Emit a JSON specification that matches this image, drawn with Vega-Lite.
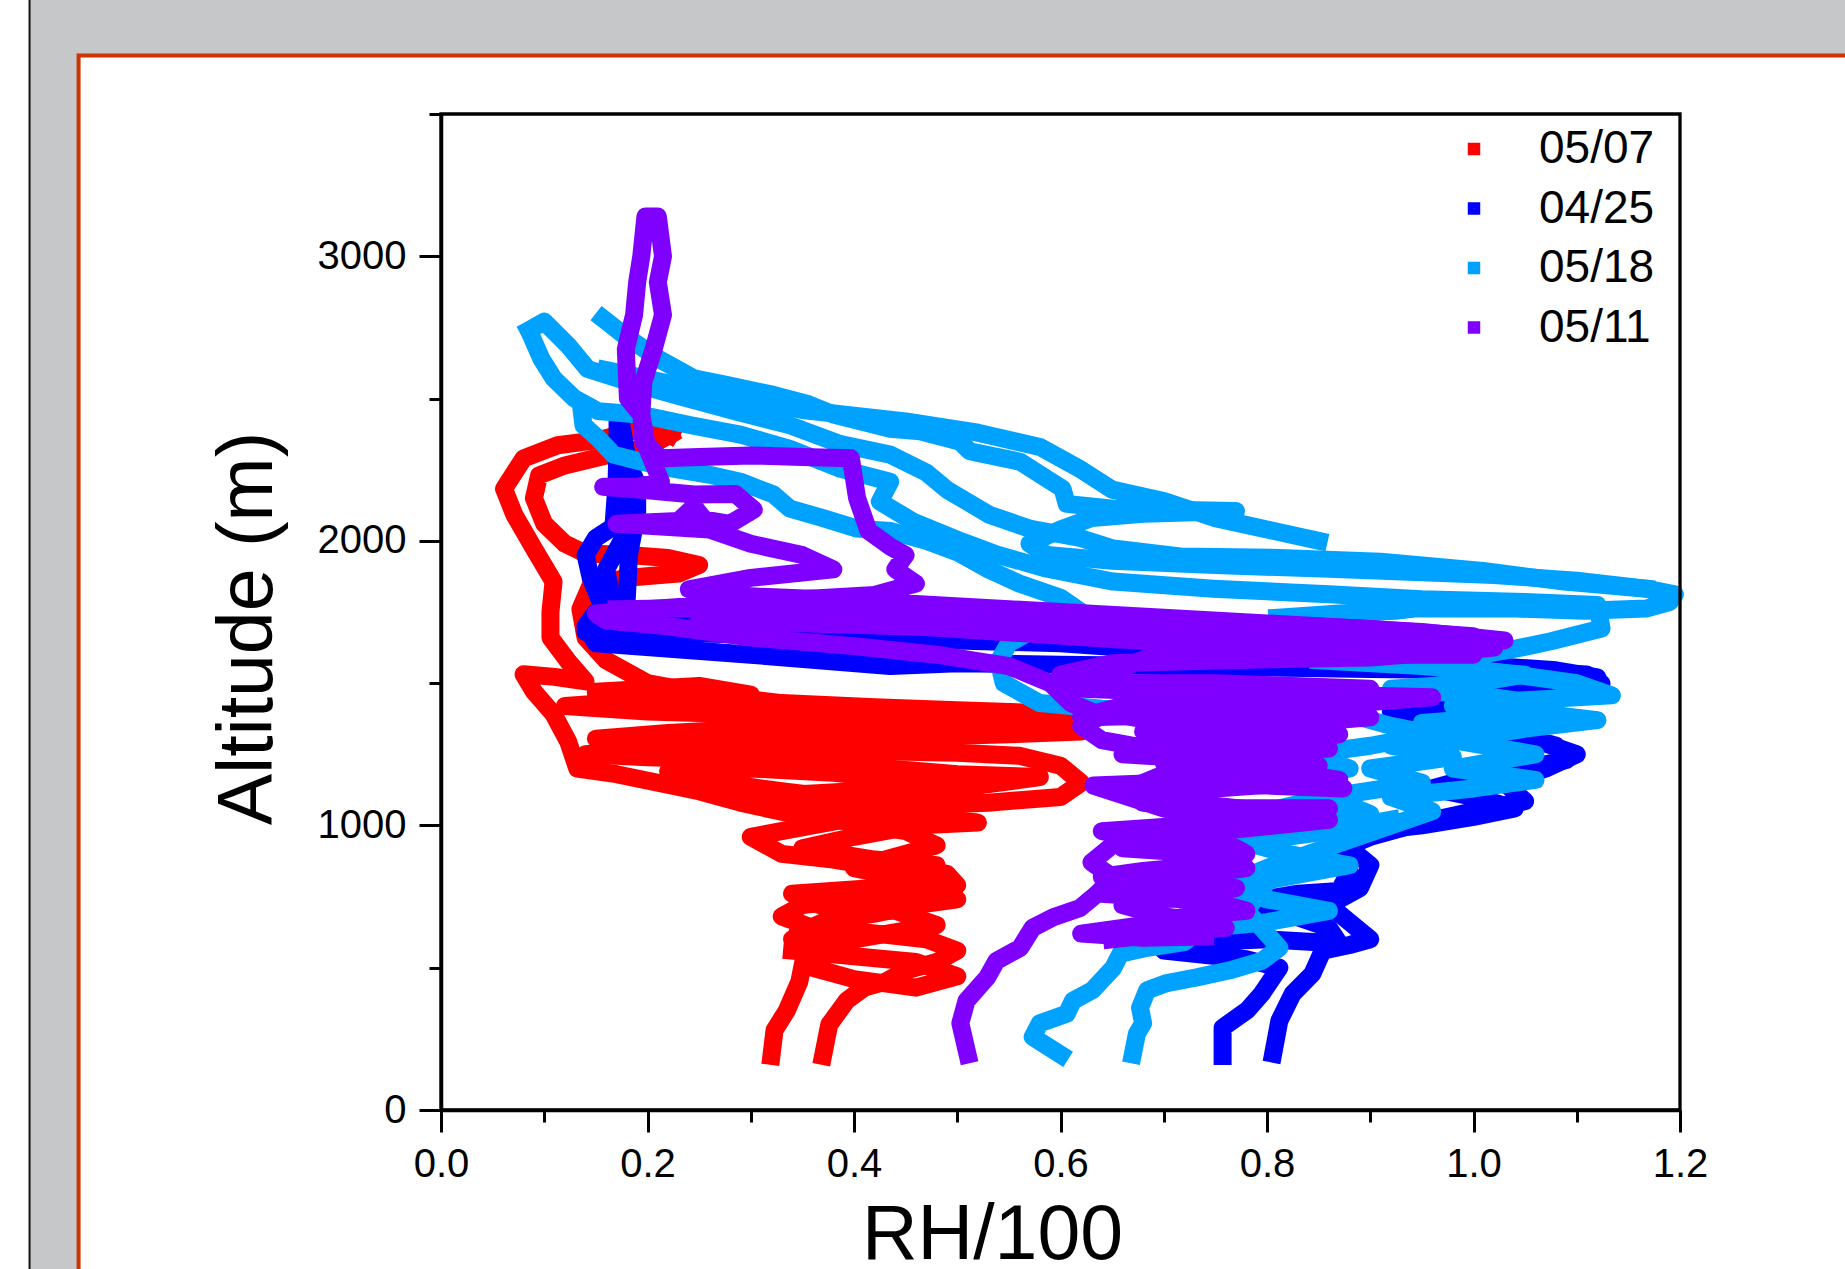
{
"$schema":"https://vega.github.io/schema/vega-lite/v6.json",
"width":1239,"height":996,
"autosize":{"type":"none"},
"padding":{"left":441,"top":114,"right":165,"bottom":159},
"background":"#ffffff",
"config":{"view":{"stroke":null},"font":"Liberation Sans"},
"datasets":{"profiles":[
{"date":"05/07","f":1,"i":1,"rh":0.32,"alt":190},{"date":"05/07","f":1,"i":2,"rh":0.323,"alt":280},{"date":"05/07","f":1,"i":3,"rh":0.335,"alt":350},{"date":"05/07","f":1,"i":4,"rh":0.347,"alt":450},{"date":"05/07","f":1,"i":5,"rh":0.352,"alt":540},{"date":"05/07","f":1,"i":6,"rh":0.345,"alt":620},{"date":"05/07","f":1,"i":7,"rh":0.37,"alt":660},{"date":"05/07","f":1,"i":8,"rh":0.42,"alt":690},{"date":"05/07","f":1,"i":9,"rh":0.46,"alt":720},{"date":"05/07","f":1,"i":10,"rh":0.5,"alt":740},{"date":"05/07","f":1,"i":11,"rh":0.48,"alt":790},{"date":"05/07","f":1,"i":12,"rh":0.44,"alt":820},{"date":"05/07","f":1,"i":13,"rh":0.4,"alt":850},{"date":"05/07","f":1,"i":14,"rh":0.44,"alt":890},{"date":"05/07","f":1,"i":15,"rh":0.48,"alt":930},{"date":"05/07","f":1,"i":16,"rh":0.45,"alt":980},{"date":"05/07","f":1,"i":17,"rh":0.4,"alt":1010},{"date":"05/07","f":1,"i":18,"rh":0.34,"alt":1040},{"date":"05/07","f":1,"i":19,"rh":0.29,"alt":1080},{"date":"05/07","f":1,"i":20,"rh":0.25,"alt":1120},{"date":"05/07","f":1,"i":21,"rh":0.21,"alt":1150},{"date":"05/07","f":1,"i":22,"rh":0.17,"alt":1180},{"date":"05/07","f":1,"i":23,"rh":0.132,"alt":1200},{"date":"05/07","f":1,"i":24,"rh":0.123,"alt":1296},{"date":"05/07","f":1,"i":25,"rh":0.109,"alt":1391},{"date":"05/07","f":1,"i":26,"rh":0.09,"alt":1470},{"date":"05/07","f":1,"i":27,"rh":0.08,"alt":1531},{"date":"05/07","f":1,"i":28,"rh":0.11,"alt":1522},{"date":"05/07","f":1,"i":29,"rh":0.14,"alt":1506},{"date":"05/07","f":1,"i":30,"rh":0.123,"alt":1577},{"date":"05/07","f":1,"i":31,"rh":0.106,"alt":1660},{"date":"05/07","f":1,"i":32,"rh":0.106,"alt":1750},{"date":"05/07","f":1,"i":33,"rh":0.109,"alt":1857},{"date":"05/07","f":1,"i":34,"rh":0.09,"alt":1973},{"date":"05/07","f":1,"i":35,"rh":0.071,"alt":2092},{"date":"05/07","f":1,"i":36,"rh":0.061,"alt":2183},{"date":"05/07","f":1,"i":37,"rh":0.08,"alt":2290},{"date":"05/07","f":1,"i":38,"rh":0.113,"alt":2336},{"date":"05/07","f":1,"i":39,"rh":0.155,"alt":2356},{"date":"05/07","f":1,"i":40,"rh":0.19,"alt":2390},{"date":"05/07","f":1,"i":41,"rh":0.21,"alt":2400},{"date":"05/07","f":1,"i":42,"rh":0.222,"alt":2373},
{"date":"05/07","f":2,"i":1,"rh":0.222,"alt":2373},{"date":"05/07","f":2,"i":2,"rh":0.2,"alt":2330},{"date":"05/07","f":2,"i":3,"rh":0.16,"alt":2300},{"date":"05/07","f":2,"i":4,"rh":0.12,"alt":2265},{"date":"05/07","f":2,"i":5,"rh":0.095,"alt":2230},{"date":"05/07","f":2,"i":6,"rh":0.09,"alt":2150},{"date":"05/07","f":2,"i":7,"rh":0.1,"alt":2060},{"date":"05/07","f":2,"i":8,"rh":0.12,"alt":1990},{"date":"05/07","f":2,"i":9,"rh":0.14,"alt":1955},{"date":"05/07","f":2,"i":10,"rh":0.175,"alt":1952},{"date":"05/07","f":2,"i":11,"rh":0.22,"alt":1940},{"date":"05/07","f":2,"i":12,"rh":0.25,"alt":1915},{"date":"05/07","f":2,"i":13,"rh":0.23,"alt":1885},{"date":"05/07","f":2,"i":14,"rh":0.18,"alt":1870},{"date":"05/07","f":2,"i":15,"rh":0.145,"alt":1845},{"date":"05/07","f":2,"i":16,"rh":0.135,"alt":1760},{"date":"05/07","f":2,"i":17,"rh":0.14,"alt":1660},{"date":"05/07","f":2,"i":18,"rh":0.16,"alt":1580},{"date":"05/07","f":2,"i":19,"rh":0.2,"alt":1500},{"date":"05/07","f":2,"i":20,"rh":0.26,"alt":1460},{"date":"05/07","f":2,"i":21,"rh":0.33,"alt":1430},{"date":"05/07","f":2,"i":22,"rh":0.42,"alt":1415},{"date":"05/07","f":2,"i":23,"rh":0.5,"alt":1405},{"date":"05/07","f":2,"i":24,"rh":0.58,"alt":1395},{"date":"05/07","f":2,"i":25,"rh":0.647,"alt":1385},{"date":"05/07","f":2,"i":26,"rh":0.6,"alt":1365},{"date":"05/07","f":2,"i":27,"rh":0.5,"alt":1350},{"date":"05/07","f":2,"i":28,"rh":0.4,"alt":1345},{"date":"05/07","f":2,"i":29,"rh":0.3,"alt":1340},{"date":"05/07","f":2,"i":30,"rh":0.22,"alt":1325},{"date":"05/07","f":2,"i":31,"rh":0.15,"alt":1305},{"date":"05/07","f":2,"i":32,"rh":0.2,"alt":1280},{"date":"05/07","f":2,"i":33,"rh":0.3,"alt":1270},{"date":"05/07","f":2,"i":34,"rh":0.4,"alt":1262},{"date":"05/07","f":2,"i":35,"rh":0.5,"alt":1255},{"date":"05/07","f":2,"i":36,"rh":0.56,"alt":1245},{"date":"05/07","f":2,"i":37,"rh":0.6,"alt":1210},{"date":"05/07","f":2,"i":38,"rh":0.62,"alt":1150},{"date":"05/07","f":2,"i":39,"rh":0.6,"alt":1100},{"date":"05/07","f":2,"i":40,"rh":0.53,"alt":1080},{"date":"05/07","f":2,"i":41,"rh":0.46,"alt":1070},{"date":"05/07","f":2,"i":42,"rh":0.4,"alt":1090},{"date":"05/07","f":2,"i":43,"rh":0.33,"alt":1120},{"date":"05/07","f":2,"i":44,"rh":0.27,"alt":1150},{"date":"05/07","f":2,"i":45,"rh":0.22,"alt":1190},{"date":"05/07","f":2,"i":46,"rh":0.3,"alt":1200},{"date":"05/07","f":2,"i":47,"rh":0.38,"alt":1185},{"date":"05/07","f":2,"i":48,"rh":0.45,"alt":1160},{"date":"05/07","f":2,"i":49,"rh":0.52,"alt":1140},{"date":"05/07","f":2,"i":50,"rh":0.5,"alt":1110},{"date":"05/07","f":2,"i":51,"rh":0.42,"alt":1040},{"date":"05/07","f":2,"i":52,"rh":0.36,"alt":1000},{"date":"05/07","f":2,"i":53,"rh":0.3,"alt":960},{"date":"05/07","f":2,"i":54,"rh":0.33,"alt":900},{"date":"05/07","f":2,"i":55,"rh":0.38,"alt":880},{"date":"05/07","f":2,"i":56,"rh":0.43,"alt":850},{"date":"05/07","f":2,"i":57,"rh":0.49,"alt":830},{"date":"05/07","f":2,"i":58,"rh":0.5,"alt":790},{"date":"05/07","f":2,"i":59,"rh":0.45,"alt":760},{"date":"05/07","f":2,"i":60,"rh":0.4,"alt":740},{"date":"05/07","f":2,"i":61,"rh":0.35,"alt":720},{"date":"05/07","f":2,"i":62,"rh":0.33,"alt":680},{"date":"05/07","f":2,"i":63,"rh":0.36,"alt":640},{"date":"05/07","f":2,"i":64,"rh":0.42,"alt":620},{"date":"05/07","f":2,"i":65,"rh":0.47,"alt":600},{"date":"05/07","f":2,"i":66,"rh":0.5,"alt":560},{"date":"05/07","f":2,"i":67,"rh":0.48,"alt":520},{"date":"05/07","f":2,"i":68,"rh":0.45,"alt":490},{"date":"05/07","f":2,"i":69,"rh":0.43,"alt":450},{"date":"05/07","f":2,"i":70,"rh":0.41,"alt":430},{"date":"05/07","f":2,"i":71,"rh":0.393,"alt":385},{"date":"05/07","f":2,"i":72,"rh":0.376,"alt":300},{"date":"05/07","f":2,"i":73,"rh":0.37,"alt":190},
{"date":"05/07","f":3,"i":1,"rh":0.34,"alt":560},{"date":"05/07","f":3,"i":2,"rh":0.4,"alt":540},{"date":"05/07","f":3,"i":3,"rh":0.46,"alt":520},{"date":"05/07","f":3,"i":4,"rh":0.5,"alt":470},{"date":"05/07","f":3,"i":5,"rh":0.46,"alt":430},{"date":"05/07","f":3,"i":6,"rh":0.4,"alt":460},{"date":"05/07","f":3,"i":7,"rh":0.36,"alt":500},{"date":"05/07","f":3,"i":8,"rh":0.34,"alt":600},{"date":"05/07","f":3,"i":9,"rh":0.4,"alt":600},{"date":"05/07","f":3,"i":10,"rh":0.48,"alt":650},{"date":"05/07","f":3,"i":11,"rh":0.44,"alt":700},{"date":"05/07","f":3,"i":12,"rh":0.38,"alt":700},{"date":"05/07","f":3,"i":13,"rh":0.34,"alt":760},{"date":"05/07","f":3,"i":14,"rh":0.42,"alt":780},{"date":"05/07","f":3,"i":15,"rh":0.48,"alt":860},{"date":"05/07","f":3,"i":16,"rh":0.42,"alt":880},{"date":"05/07","f":3,"i":17,"rh":0.35,"alt":920},{"date":"05/07","f":3,"i":18,"rh":0.4,"alt":960},{"date":"05/07","f":3,"i":19,"rh":0.46,"alt":1000},{"date":"05/07","f":3,"i":20,"rh":0.52,"alt":1010},{"date":"05/07","f":3,"i":21,"rh":0.45,"alt":1040},{"date":"05/07","f":3,"i":22,"rh":0.36,"alt":1060},{"date":"05/07","f":3,"i":23,"rh":0.3,"alt":1100},{"date":"05/07","f":3,"i":24,"rh":0.4,"alt":1120},{"date":"05/07","f":3,"i":25,"rh":0.5,"alt":1130},{"date":"05/07","f":3,"i":26,"rh":0.58,"alt":1170},{"date":"05/07","f":3,"i":27,"rh":0.5,"alt":1180},{"date":"05/07","f":3,"i":28,"rh":0.4,"alt":1210},{"date":"05/07","f":3,"i":29,"rh":0.3,"alt":1230},{"date":"05/07","f":3,"i":30,"rh":0.2,"alt":1240},{"date":"05/07","f":3,"i":31,"rh":0.14,"alt":1250},{"date":"05/07","f":3,"i":32,"rh":0.25,"alt":1290},{"date":"05/07","f":3,"i":33,"rh":0.35,"alt":1300},{"date":"05/07","f":3,"i":34,"rh":0.45,"alt":1310},{"date":"05/07","f":3,"i":35,"rh":0.55,"alt":1320},{"date":"05/07","f":3,"i":36,"rh":0.62,"alt":1330},{"date":"05/07","f":3,"i":37,"rh":0.5,"alt":1370},{"date":"05/07","f":3,"i":38,"rh":0.4,"alt":1380},{"date":"05/07","f":3,"i":39,"rh":0.3,"alt":1390},{"date":"05/07","f":3,"i":40,"rh":0.2,"alt":1400},{"date":"05/07","f":3,"i":41,"rh":0.12,"alt":1420},{"date":"05/07","f":3,"i":42,"rh":0.2,"alt":1440},{"date":"05/07","f":3,"i":43,"rh":0.3,"alt":1460},{"date":"05/07","f":3,"i":44,"rh":0.25,"alt":1490},{"date":"05/07","f":3,"i":45,"rh":0.15,"alt":1470},
{"date":"04/25","f":1,"i":1,"rh":0.757,"alt":190},{"date":"04/25","f":1,"i":2,"rh":0.757,"alt":289},{"date":"04/25","f":1,"i":3,"rh":0.781,"alt":351},{"date":"04/25","f":1,"i":4,"rh":0.795,"alt":409},{"date":"04/25","f":1,"i":5,"rh":0.812,"alt":500},{"date":"04/25","f":1,"i":6,"rh":0.78,"alt":530},{"date":"04/25","f":1,"i":7,"rh":0.7,"alt":560},{"date":"04/25","f":1,"i":8,"rh":0.74,"alt":590},{"date":"04/25","f":1,"i":9,"rh":0.8,"alt":600},{"date":"04/25","f":1,"i":10,"rh":0.87,"alt":585},{"date":"04/25","f":1,"i":11,"rh":0.86,"alt":640},{"date":"04/25","f":1,"i":12,"rh":0.82,"alt":690},{"date":"04/25","f":1,"i":13,"rh":0.78,"alt":730},{"date":"04/25","f":1,"i":14,"rh":0.83,"alt":760},{"date":"04/25","f":1,"i":15,"rh":0.87,"alt":770},{"date":"04/25","f":1,"i":16,"rh":0.88,"alt":840},{"date":"04/25","f":1,"i":17,"rh":0.86,"alt":900},{"date":"04/25","f":1,"i":18,"rh":0.9,"alt":960},{"date":"04/25","f":1,"i":19,"rh":0.95,"alt":1010},{"date":"04/25","f":1,"i":20,"rh":1.0,"alt":1050},{"date":"04/25","f":1,"i":21,"rh":1.05,"alt":1085},{"date":"04/25","f":1,"i":22,"rh":1.03,"alt":1150},{"date":"04/25","f":1,"i":23,"rh":1.07,"alt":1200},{"date":"04/25","f":1,"i":24,"rh":1.1,"alt":1250},{"date":"04/25","f":1,"i":25,"rh":1.06,"alt":1300},{"date":"04/25","f":1,"i":26,"rh":1.0,"alt":1330},{"date":"04/25","f":1,"i":27,"rh":0.95,"alt":1370},{"date":"04/25","f":1,"i":28,"rh":1.0,"alt":1420},{"date":"04/25","f":1,"i":29,"rh":1.07,"alt":1470},{"date":"04/25","f":1,"i":30,"rh":1.124,"alt":1498},{"date":"04/25","f":1,"i":31,"rh":1.11,"alt":1530},{"date":"04/25","f":1,"i":32,"rh":1.0,"alt":1545},{"date":"04/25","f":1,"i":33,"rh":0.9,"alt":1550},{"date":"04/25","f":1,"i":34,"rh":0.8,"alt":1555},{"date":"04/25","f":1,"i":35,"rh":0.7,"alt":1560},{"date":"04/25","f":1,"i":36,"rh":0.6,"alt":1565},{"date":"04/25","f":1,"i":37,"rh":0.5,"alt":1570},{"date":"04/25","f":1,"i":38,"rh":0.435,"alt":1560},{"date":"04/25","f":1,"i":39,"rh":0.3,"alt":1600},{"date":"04/25","f":1,"i":40,"rh":0.15,"alt":1640},{"date":"04/25","f":1,"i":41,"rh":0.14,"alt":1700},{"date":"04/25","f":1,"i":42,"rh":0.15,"alt":1750},{"date":"04/25","f":1,"i":43,"rh":0.2,"alt":1760},{"date":"04/25","f":1,"i":44,"rh":0.27,"alt":1745},{"date":"04/25","f":1,"i":45,"rh":0.24,"alt":1715},{"date":"04/25","f":1,"i":46,"rh":0.18,"alt":1715},{"date":"04/25","f":1,"i":47,"rh":0.155,"alt":1780},{"date":"04/25","f":1,"i":48,"rh":0.145,"alt":1870},{"date":"04/25","f":1,"i":49,"rh":0.14,"alt":1950},{"date":"04/25","f":1,"i":50,"rh":0.15,"alt":2010},{"date":"04/25","f":1,"i":51,"rh":0.167,"alt":2050},{"date":"04/25","f":1,"i":52,"rh":0.17,"alt":2200},{"date":"04/25","f":1,"i":53,"rh":0.171,"alt":2350},{"date":"04/25","f":1,"i":54,"rh":0.171,"alt":2447},
{"date":"04/25","f":2,"i":1,"rh":0.171,"alt":2447},{"date":"04/25","f":2,"i":2,"rh":0.178,"alt":2300},{"date":"04/25","f":2,"i":3,"rh":0.19,"alt":2200},{"date":"04/25","f":2,"i":4,"rh":0.19,"alt":2100},{"date":"04/25","f":2,"i":5,"rh":0.182,"alt":1950},{"date":"04/25","f":2,"i":6,"rh":0.18,"alt":1800},{"date":"04/25","f":2,"i":7,"rh":0.17,"alt":1700},{"date":"04/25","f":2,"i":8,"rh":0.2,"alt":1680},{"date":"04/25","f":2,"i":9,"rh":0.3,"alt":1670},{"date":"04/25","f":2,"i":10,"rh":0.4,"alt":1660},{"date":"04/25","f":2,"i":11,"rh":0.5,"alt":1650},{"date":"04/25","f":2,"i":12,"rh":0.6,"alt":1640},{"date":"04/25","f":2,"i":13,"rh":0.7,"alt":1615},{"date":"04/25","f":2,"i":14,"rh":0.8,"alt":1595},{"date":"04/25","f":2,"i":15,"rh":0.9,"alt":1580},{"date":"04/25","f":2,"i":16,"rh":1.0,"alt":1565},{"date":"04/25","f":2,"i":17,"rh":1.08,"alt":1545},{"date":"04/25","f":2,"i":18,"rh":1.12,"alt":1520},{"date":"04/25","f":2,"i":19,"rh":1.1,"alt":1480},{"date":"04/25","f":2,"i":20,"rh":1.02,"alt":1460},{"date":"04/25","f":2,"i":21,"rh":0.96,"alt":1440},{"date":"04/25","f":2,"i":22,"rh":0.92,"alt":1400},{"date":"04/25","f":2,"i":23,"rh":0.98,"alt":1360},{"date":"04/25","f":2,"i":24,"rh":1.04,"alt":1320},{"date":"04/25","f":2,"i":25,"rh":1.08,"alt":1280},{"date":"04/25","f":2,"i":26,"rh":1.09,"alt":1230},{"date":"04/25","f":2,"i":27,"rh":1.05,"alt":1200},{"date":"04/25","f":2,"i":28,"rh":1.0,"alt":1170},{"date":"04/25","f":2,"i":29,"rh":0.96,"alt":1130},{"date":"04/25","f":2,"i":30,"rh":1.0,"alt":1100},{"date":"04/25","f":2,"i":31,"rh":1.04,"alt":1060},{"date":"04/25","f":2,"i":32,"rh":1.0,"alt":1030},{"date":"04/25","f":2,"i":33,"rh":0.95,"alt":1000},{"date":"04/25","f":2,"i":34,"rh":0.9,"alt":980},{"date":"04/25","f":2,"i":35,"rh":0.88,"alt":920},{"date":"04/25","f":2,"i":36,"rh":0.9,"alt":860},{"date":"04/25","f":2,"i":37,"rh":0.89,"alt":780},{"date":"04/25","f":2,"i":38,"rh":0.86,"alt":720},{"date":"04/25","f":2,"i":39,"rh":0.88,"alt":660},{"date":"04/25","f":2,"i":40,"rh":0.9,"alt":600},{"date":"04/25","f":2,"i":41,"rh":0.88,"alt":580},{"date":"04/25","f":2,"i":42,"rh":0.854,"alt":560},{"date":"04/25","f":2,"i":43,"rh":0.844,"alt":479},{"date":"04/25","f":2,"i":44,"rh":0.825,"alt":409},{"date":"04/25","f":2,"i":45,"rh":0.812,"alt":314},{"date":"04/25","f":2,"i":46,"rh":0.806,"alt":198},
{"date":"04/25","f":3,"i":1,"rh":0.175,"alt":2400},{"date":"04/25","f":3,"i":2,"rh":0.18,"alt":2300},{"date":"04/25","f":3,"i":3,"rh":0.185,"alt":2150},{"date":"04/25","f":3,"i":4,"rh":0.175,"alt":2000},{"date":"04/25","f":3,"i":5,"rh":0.16,"alt":1900},{"date":"04/25","f":3,"i":6,"rh":0.165,"alt":1800},{"date":"04/25","f":3,"i":7,"rh":0.16,"alt":1700},{"date":"04/25","f":3,"i":8,"rh":0.14,"alt":1680},{"date":"04/25","f":3,"i":9,"rh":0.3,"alt":1690},{"date":"04/25","f":3,"i":10,"rh":0.45,"alt":1680},{"date":"04/25","f":3,"i":11,"rh":0.6,"alt":1665},
{"date":"05/18","f":1,"i":1,"rh":0.157,"alt":2781},{"date":"05/18","f":1,"i":2,"rh":0.177,"alt":2724},{"date":"05/18","f":1,"i":3,"rh":0.21,"alt":2641},{"date":"05/18","f":1,"i":4,"rh":0.245,"alt":2571},{"date":"05/18","f":1,"i":5,"rh":0.274,"alt":2550},{"date":"05/18","f":1,"i":6,"rh":0.322,"alt":2513},{"date":"05/18","f":1,"i":7,"rh":0.356,"alt":2480},{"date":"05/18","f":1,"i":8,"rh":0.381,"alt":2443},{"date":"05/18","f":1,"i":9,"rh":0.435,"alt":2394},{"date":"05/18","f":1,"i":10,"rh":0.464,"alt":2385},{"date":"05/18","f":1,"i":11,"rh":0.503,"alt":2348},{"date":"05/18","f":1,"i":12,"rh":0.512,"alt":2315},{"date":"05/18","f":1,"i":13,"rh":0.561,"alt":2278},{"date":"05/18","f":1,"i":14,"rh":0.602,"alt":2183},{"date":"05/18","f":1,"i":15,"rh":0.606,"alt":2130},{"date":"05/18","f":1,"i":16,"rh":0.651,"alt":2113},{"date":"05/18","f":1,"i":17,"rh":0.77,"alt":2105},{"date":"05/18","f":1,"i":18,"rh":0.68,"alt":2095},{"date":"05/18","f":1,"i":19,"rh":0.63,"alt":2080},{"date":"05/18","f":1,"i":20,"rh":0.6,"alt":2040},{"date":"05/18","f":1,"i":21,"rh":0.57,"alt":1990},{"date":"05/18","f":1,"i":22,"rh":0.587,"alt":1950},{"date":"05/18","f":1,"i":23,"rh":0.65,"alt":1930},{"date":"05/18","f":1,"i":24,"rh":0.75,"alt":1915},{"date":"05/18","f":1,"i":25,"rh":0.86,"alt":1902},{"date":"05/18","f":1,"i":26,"rh":0.95,"alt":1890},{"date":"05/18","f":1,"i":27,"rh":1.02,"alt":1880},{"date":"05/18","f":1,"i":28,"rh":1.1,"alt":1860},{"date":"05/18","f":1,"i":29,"rh":1.167,"alt":1832},{"date":"05/18","f":1,"i":30,"rh":1.195,"alt":1812},{"date":"05/18","f":1,"i":31,"rh":1.19,"alt":1785},{"date":"05/18","f":1,"i":32,"rh":1.167,"alt":1762},{"date":"05/18","f":1,"i":33,"rh":1.108,"alt":1754},{"date":"05/18","f":1,"i":34,"rh":1.042,"alt":1762},{"date":"05/18","f":1,"i":35,"rh":0.943,"alt":1762},{"date":"05/18","f":1,"i":36,"rh":0.924,"alt":1754},{"date":"05/18","f":1,"i":37,"rh":0.87,"alt":1745},{"date":"05/18","f":1,"i":38,"rh":0.81,"alt":1730},
{"date":"05/18","f":2,"i":1,"rh":0.085,"alt":2740},{"date":"05/18","f":2,"i":2,"rh":0.1,"alt":2770},{"date":"05/18","f":2,"i":3,"rh":0.123,"alt":2687},{"date":"05/18","f":2,"i":4,"rh":0.142,"alt":2604},{"date":"05/18","f":2,"i":5,"rh":0.181,"alt":2559},{"date":"05/18","f":2,"i":6,"rh":0.226,"alt":2513},{"date":"05/18","f":2,"i":7,"rh":0.284,"alt":2456},{"date":"05/18","f":2,"i":8,"rh":0.338,"alt":2406},{"date":"05/18","f":2,"i":9,"rh":0.387,"alt":2340},{"date":"05/18","f":2,"i":10,"rh":0.435,"alt":2303},{"date":"05/18","f":2,"i":11,"rh":0.47,"alt":2240},{"date":"05/18","f":2,"i":12,"rh":0.49,"alt":2180},{"date":"05/18","f":2,"i":13,"rh":0.531,"alt":2092},{"date":"05/18","f":2,"i":14,"rh":0.57,"alt":2043},{"date":"05/18","f":2,"i":15,"rh":0.619,"alt":2010},{"date":"05/18","f":2,"i":16,"rh":0.651,"alt":1973},{"date":"05/18","f":2,"i":17,"rh":0.716,"alt":1945},{"date":"05/18","f":2,"i":18,"rh":0.812,"alt":1940},{"date":"05/18","f":2,"i":19,"rh":0.91,"alt":1927},{"date":"05/18","f":2,"i":20,"rh":1.009,"alt":1894},{"date":"05/18","f":2,"i":21,"rh":1.088,"alt":1857},{"date":"05/18","f":2,"i":22,"rh":1.167,"alt":1832},
{"date":"05/18","f":3,"i":1,"rh":0.087,"alt":2724},{"date":"05/18","f":3,"i":2,"rh":0.097,"alt":2641},{"date":"05/18","f":3,"i":3,"rh":0.109,"alt":2571},{"date":"05/18","f":3,"i":4,"rh":0.129,"alt":2501},{"date":"05/18","f":3,"i":5,"rh":0.152,"alt":2456},{"date":"05/18","f":3,"i":6,"rh":0.194,"alt":2443},{"date":"05/18","f":3,"i":7,"rh":0.242,"alt":2406},{"date":"05/18","f":3,"i":8,"rh":0.29,"alt":2373},{"date":"05/18","f":3,"i":9,"rh":0.338,"alt":2323},{"date":"05/18","f":3,"i":10,"rh":0.387,"alt":2253},{"date":"05/18","f":3,"i":11,"rh":0.435,"alt":2208},{"date":"05/18","f":3,"i":12,"rh":0.425,"alt":2138},{"date":"05/18","f":3,"i":13,"rh":0.457,"alt":2068},{"date":"05/18","f":3,"i":14,"rh":0.505,"alt":1997},{"date":"05/18","f":3,"i":15,"rh":0.538,"alt":1952},{"date":"05/18","f":3,"i":16,"rh":0.587,"alt":1902},{"date":"05/18","f":3,"i":17,"rh":0.651,"alt":1857},{"date":"05/18","f":3,"i":18,"rh":0.748,"alt":1832},{"date":"05/18","f":3,"i":19,"rh":0.86,"alt":1812},{"date":"05/18","f":3,"i":20,"rh":0.95,"alt":1795},{"date":"05/18","f":3,"i":21,"rh":1.05,"alt":1785},{"date":"05/18","f":3,"i":22,"rh":1.12,"alt":1775},{"date":"05/18","f":3,"i":23,"rh":1.124,"alt":1692},{"date":"05/18","f":3,"i":24,"rh":1.075,"alt":1647},{"date":"05/18","f":3,"i":25,"rh":1.042,"alt":1622},{"date":"05/18","f":3,"i":26,"rh":1.009,"alt":1601},{"date":"05/18","f":3,"i":27,"rh":0.976,"alt":1568},{"date":"05/18","f":3,"i":28,"rh":1.02,"alt":1540},{"date":"05/18","f":3,"i":29,"rh":1.1,"alt":1500},{"date":"05/18","f":3,"i":30,"rh":1.134,"alt":1457},{"date":"05/18","f":3,"i":31,"rh":1.05,"alt":1440},{"date":"05/18","f":3,"i":32,"rh":0.98,"alt":1420},{"date":"05/18","f":3,"i":33,"rh":1.05,"alt":1400},{"date":"05/18","f":3,"i":34,"rh":1.12,"alt":1370},{"date":"05/18","f":3,"i":35,"rh":1.05,"alt":1340},{"date":"05/18","f":3,"i":36,"rh":0.98,"alt":1300},{"date":"05/18","f":3,"i":37,"rh":1.06,"alt":1250},{"date":"05/18","f":3,"i":38,"rh":0.98,"alt":1200},{"date":"05/18","f":3,"i":39,"rh":1.06,"alt":1160},{"date":"05/18","f":3,"i":40,"rh":1.0,"alt":1130},{"date":"05/18","f":3,"i":41,"rh":0.92,"alt":1100},{"date":"05/18","f":3,"i":42,"rh":0.96,"alt":1050},{"date":"05/18","f":3,"i":43,"rh":0.92,"alt":1000},{"date":"05/18","f":3,"i":44,"rh":0.88,"alt":950},{"date":"05/18","f":3,"i":45,"rh":0.84,"alt":900},{"date":"05/18","f":3,"i":46,"rh":0.8,"alt":850},{"date":"05/18","f":3,"i":47,"rh":0.76,"alt":790},{"date":"05/18","f":3,"i":48,"rh":0.73,"alt":720},{"date":"05/18","f":3,"i":49,"rh":0.74,"alt":650},{"date":"05/18","f":3,"i":50,"rh":0.72,"alt":590},{"date":"05/18","f":3,"i":51,"rh":0.684,"alt":570},{"date":"05/18","f":3,"i":52,"rh":0.658,"alt":549},{"date":"05/18","f":3,"i":53,"rh":0.651,"alt":499},{"date":"05/18","f":3,"i":54,"rh":0.631,"alt":421},{"date":"05/18","f":3,"i":55,"rh":0.612,"alt":384},{"date":"05/18","f":3,"i":56,"rh":0.606,"alt":338},{"date":"05/18","f":3,"i":57,"rh":0.58,"alt":305},{"date":"05/18","f":3,"i":58,"rh":0.573,"alt":257},{"date":"05/18","f":3,"i":59,"rh":0.6,"alt":195},
{"date":"05/18","f":4,"i":1,"rh":0.136,"alt":2464},{"date":"05/18","f":4,"i":2,"rh":0.138,"alt":2406},{"date":"05/18","f":4,"i":3,"rh":0.152,"alt":2361},{"date":"05/18","f":4,"i":4,"rh":0.162,"alt":2323},{"date":"05/18","f":4,"i":5,"rh":0.167,"alt":2303},{"date":"05/18","f":4,"i":6,"rh":0.194,"alt":2278},{"date":"05/18","f":4,"i":7,"rh":0.226,"alt":2253},{"date":"05/18","f":4,"i":8,"rh":0.259,"alt":2233},{"date":"05/18","f":4,"i":9,"rh":0.29,"alt":2208},{"date":"05/18","f":4,"i":10,"rh":0.322,"alt":2163},{"date":"05/18","f":4,"i":11,"rh":0.338,"alt":2113},{"date":"05/18","f":4,"i":12,"rh":0.37,"alt":2080},{"date":"05/18","f":4,"i":13,"rh":0.403,"alt":2043},{"date":"05/18","f":4,"i":14,"rh":0.435,"alt":2035},{"date":"05/18","f":4,"i":15,"rh":0.47,"alt":2000},{"date":"05/18","f":4,"i":16,"rh":0.5,"alt":1960},{"date":"05/18","f":4,"i":17,"rh":0.53,"alt":1900},{"date":"05/18","f":4,"i":18,"rh":0.56,"alt":1850},{"date":"05/18","f":4,"i":19,"rh":0.6,"alt":1800},{"date":"05/18","f":4,"i":20,"rh":0.62,"alt":1750},{"date":"05/18","f":4,"i":21,"rh":0.58,"alt":1700},{"date":"05/18","f":4,"i":22,"rh":0.55,"alt":1640},{"date":"05/18","f":4,"i":23,"rh":0.54,"alt":1576},{"date":"05/18","f":4,"i":24,"rh":0.545,"alt":1500},{"date":"05/18","f":4,"i":25,"rh":0.58,"alt":1430},{"date":"05/18","f":4,"i":26,"rh":0.64,"alt":1410},{"date":"05/18","f":4,"i":27,"rh":0.72,"alt":1400},{"date":"05/18","f":4,"i":28,"rh":0.8,"alt":1400},{"date":"05/18","f":4,"i":29,"rh":0.88,"alt":1390},{"date":"05/18","f":4,"i":30,"rh":0.92,"alt":1350},{"date":"05/18","f":4,"i":31,"rh":0.96,"alt":1320},{"date":"05/18","f":4,"i":32,"rh":0.9,"alt":1280},{"date":"05/18","f":4,"i":33,"rh":0.84,"alt":1250},{"date":"05/18","f":4,"i":34,"rh":0.88,"alt":1200},{"date":"05/18","f":4,"i":35,"rh":0.82,"alt":1150},{"date":"05/18","f":4,"i":36,"rh":0.86,"alt":1100},{"date":"05/18","f":4,"i":37,"rh":0.8,"alt":1050},{"date":"05/18","f":4,"i":38,"rh":0.84,"alt":1000},{"date":"05/18","f":4,"i":39,"rh":0.78,"alt":950},{"date":"05/18","f":4,"i":40,"rh":0.82,"alt":900},{"date":"05/18","f":4,"i":41,"rh":0.8,"alt":800},{"date":"05/18","f":4,"i":42,"rh":0.78,"alt":700},{"date":"05/18","f":4,"i":43,"rh":0.812,"alt":570},{"date":"05/18","f":4,"i":44,"rh":0.795,"alt":524},{"date":"05/18","f":4,"i":45,"rh":0.764,"alt":491},{"date":"05/18","f":4,"i":46,"rh":0.732,"alt":466},{"date":"05/18","f":4,"i":47,"rh":0.703,"alt":446},{"date":"05/18","f":4,"i":48,"rh":0.684,"alt":421},{"date":"05/18","f":4,"i":49,"rh":0.677,"alt":359},{"date":"05/18","f":4,"i":50,"rh":0.68,"alt":305},{"date":"05/18","f":4,"i":51,"rh":0.674,"alt":268},{"date":"05/18","f":4,"i":52,"rh":0.67,"alt":195},
{"date":"05/18","f":5,"i":1,"rh":0.82,"alt":1000},{"date":"05/18","f":5,"i":2,"rh":0.9,"alt":1040},{"date":"05/18","f":5,"i":3,"rh":0.86,"alt":1100},{"date":"05/18","f":5,"i":4,"rh":0.95,"alt":1150},{"date":"05/18","f":5,"i":5,"rh":0.9,"alt":1200},{"date":"05/18","f":5,"i":6,"rh":0.98,"alt":1240},{"date":"05/18","f":5,"i":7,"rh":0.92,"alt":1280},{"date":"05/18","f":5,"i":8,"rh":1.0,"alt":1320},{"date":"05/18","f":5,"i":9,"rh":0.95,"alt":1360},{"date":"05/18","f":5,"i":10,"rh":1.02,"alt":1380},{"date":"05/18","f":5,"i":11,"rh":1.08,"alt":1420},{"date":"05/18","f":5,"i":12,"rh":1.0,"alt":1460},{"date":"05/18","f":5,"i":13,"rh":0.92,"alt":1480},{"date":"05/18","f":5,"i":14,"rh":1.0,"alt":1500},{"date":"05/18","f":5,"i":15,"rh":1.05,"alt":1530},{"date":"05/18","f":5,"i":16,"rh":0.95,"alt":1560},{"date":"05/18","f":5,"i":17,"rh":0.85,"alt":1580},
{"date":"05/18","f":6,"i":1,"rh":0.16,"alt":2600},{"date":"05/18","f":6,"i":2,"rh":0.25,"alt":2530},{"date":"05/18","f":6,"i":3,"rh":0.35,"alt":2460},{"date":"05/18","f":6,"i":4,"rh":0.45,"alt":2420},{"date":"05/18","f":6,"i":5,"rh":0.52,"alt":2380},{"date":"05/18","f":6,"i":6,"rh":0.58,"alt":2330},{"date":"05/18","f":6,"i":7,"rh":0.62,"alt":2250},{"date":"05/18","f":6,"i":8,"rh":0.65,"alt":2180},{"date":"05/18","f":6,"i":9,"rh":0.7,"alt":2140},{"date":"05/18","f":6,"i":10,"rh":0.75,"alt":2080},{"date":"05/18","f":6,"i":11,"rh":0.8,"alt":2040},{"date":"05/18","f":6,"i":12,"rh":0.85,"alt":2000},
{"date":"05/18","f":7,"i":1,"rh":0.74,"alt":640},{"date":"05/18","f":7,"i":2,"rh":0.8,"alt":660},{"date":"05/18","f":7,"i":3,"rh":0.86,"alt":700},{"date":"05/18","f":7,"i":4,"rh":0.8,"alt":740},{"date":"05/18","f":7,"i":5,"rh":0.76,"alt":780},{"date":"05/18","f":7,"i":6,"rh":0.82,"alt":820},{"date":"05/18","f":7,"i":7,"rh":0.88,"alt":860},{"date":"05/18","f":7,"i":8,"rh":0.82,"alt":900},{"date":"05/18","f":7,"i":9,"rh":0.78,"alt":940},{"date":"05/18","f":7,"i":10,"rh":0.86,"alt":980},{"date":"05/18","f":7,"i":11,"rh":0.92,"alt":1020},
{"date":"05/11","f":1,"i":1,"rh":0.51,"alt":195},{"date":"05/11","f":1,"i":2,"rh":0.503,"alt":305},{"date":"05/11","f":1,"i":3,"rh":0.509,"alt":384},{"date":"05/11","f":1,"i":4,"rh":0.529,"alt":466},{"date":"05/11","f":1,"i":5,"rh":0.538,"alt":524},{"date":"05/11","f":1,"i":6,"rh":0.561,"alt":570},{"date":"05/11","f":1,"i":7,"rh":0.573,"alt":640},{"date":"05/11","f":1,"i":8,"rh":0.593,"alt":677},{"date":"05/11","f":1,"i":9,"rh":0.619,"alt":710},{"date":"05/11","f":1,"i":10,"rh":0.635,"alt":759},{"date":"05/11","f":1,"i":11,"rh":0.651,"alt":817},{"date":"05/11","f":1,"i":12,"rh":0.63,"alt":870},{"date":"05/11","f":1,"i":13,"rh":0.65,"alt":930},{"date":"05/11","f":1,"i":14,"rh":0.7,"alt":980},{"date":"05/11","f":1,"i":15,"rh":0.75,"alt":1020},{"date":"05/11","f":1,"i":16,"rh":0.7,"alt":1060},{"date":"05/11","f":1,"i":17,"rh":0.632,"alt":1140},{"date":"05/11","f":1,"i":18,"rh":0.7,"alt":1150},{"date":"05/11","f":1,"i":19,"rh":0.8,"alt":1140},{"date":"05/11","f":1,"i":20,"rh":0.874,"alt":1130},{"date":"05/11","f":1,"i":21,"rh":0.84,"alt":1180},{"date":"05/11","f":1,"i":22,"rh":0.78,"alt":1220},{"date":"05/11","f":1,"i":23,"rh":0.7,"alt":1260},{"date":"05/11","f":1,"i":24,"rh":0.64,"alt":1300},{"date":"05/11","f":1,"i":25,"rh":0.62,"alt":1350},{"date":"05/11","f":1,"i":26,"rh":0.64,"alt":1385},{"date":"05/11","f":1,"i":27,"rh":0.61,"alt":1430},{"date":"05/11","f":1,"i":28,"rh":0.59,"alt":1500},{"date":"05/11","f":1,"i":29,"rh":0.55,"alt":1560},{"date":"05/11","f":1,"i":30,"rh":0.48,"alt":1600},{"date":"05/11","f":1,"i":31,"rh":0.4,"alt":1630},{"date":"05/11","f":1,"i":32,"rh":0.3,"alt":1660},{"date":"05/11","f":1,"i":33,"rh":0.22,"alt":1700},{"date":"05/11","f":1,"i":34,"rh":0.16,"alt":1720},{"date":"05/11","f":1,"i":35,"rh":0.15,"alt":1745},{"date":"05/11","f":1,"i":36,"rh":0.2,"alt":1760},{"date":"05/11","f":1,"i":37,"rh":0.3,"alt":1785},{"date":"05/11","f":1,"i":38,"rh":0.42,"alt":1810},{"date":"05/11","f":1,"i":39,"rh":0.46,"alt":1850},{"date":"05/11","f":1,"i":40,"rh":0.44,"alt":1900},{"date":"05/11","f":1,"i":41,"rh":0.45,"alt":1950},{"date":"05/11","f":1,"i":42,"rh":0.435,"alt":1980},{"date":"05/11","f":1,"i":43,"rh":0.414,"alt":2035},{"date":"05/11","f":1,"i":44,"rh":0.403,"alt":2150},{"date":"05/11","f":1,"i":45,"rh":0.397,"alt":2290},{"date":"05/11","f":1,"i":46,"rh":0.35,"alt":2295},{"date":"05/11","f":1,"i":47,"rh":0.3,"alt":2300},{"date":"05/11","f":1,"i":48,"rh":0.25,"alt":2295},{"date":"05/11","f":1,"i":49,"rh":0.213,"alt":2290},{"date":"05/11","f":1,"i":50,"rh":0.196,"alt":2348},{"date":"05/11","f":1,"i":51,"rh":0.194,"alt":2443},{"date":"05/11","f":1,"i":52,"rh":0.181,"alt":2501},{"date":"05/11","f":1,"i":53,"rh":0.179,"alt":2674},{"date":"05/11","f":1,"i":54,"rh":0.187,"alt":2794},{"date":"05/11","f":1,"i":55,"rh":0.19,"alt":2909},{"date":"05/11","f":1,"i":56,"rh":0.194,"alt":3000},{"date":"05/11","f":1,"i":57,"rh":0.198,"alt":3140},{"date":"05/11","f":1,"i":58,"rh":0.21,"alt":3140},{"date":"05/11","f":1,"i":59,"rh":0.215,"alt":3000},{"date":"05/11","f":1,"i":60,"rh":0.21,"alt":2909},{"date":"05/11","f":1,"i":61,"rh":0.215,"alt":2794},{"date":"05/11","f":1,"i":62,"rh":0.206,"alt":2674},{"date":"05/11","f":1,"i":63,"rh":0.196,"alt":2559},{"date":"05/11","f":1,"i":64,"rh":0.194,"alt":2443},{"date":"05/11","f":1,"i":65,"rh":0.2,"alt":2323},{"date":"05/11","f":1,"i":66,"rh":0.213,"alt":2208},{"date":"05/11","f":1,"i":67,"rh":0.19,"alt":2190},{"date":"05/11","f":1,"i":68,"rh":0.157,"alt":2190},{"date":"05/11","f":1,"i":69,"rh":0.2,"alt":2178},{"date":"05/11","f":1,"i":70,"rh":0.245,"alt":2163},{"date":"05/11","f":1,"i":71,"rh":0.285,"alt":2165},{"date":"05/11","f":1,"i":72,"rh":0.303,"alt":2110},{"date":"05/11","f":1,"i":73,"rh":0.28,"alt":2060},{"date":"05/11","f":1,"i":74,"rh":0.255,"alt":2075},{"date":"05/11","f":1,"i":75,"rh":0.245,"alt":2120},{"date":"05/11","f":1,"i":76,"rh":0.23,"alt":2070},{"date":"05/11","f":1,"i":77,"rh":0.17,"alt":2060},{"date":"05/11","f":1,"i":78,"rh":0.26,"alt":2040},{"date":"05/11","f":1,"i":79,"rh":0.3,"alt":1990},{"date":"05/11","f":1,"i":80,"rh":0.35,"alt":1950},{"date":"05/11","f":1,"i":81,"rh":0.38,"alt":1900},{"date":"05/11","f":1,"i":82,"rh":0.3,"alt":1870},{"date":"05/11","f":1,"i":83,"rh":0.24,"alt":1830},{"date":"05/11","f":1,"i":84,"rh":0.3,"alt":1805},{"date":"05/11","f":1,"i":85,"rh":0.4,"alt":1790},{"date":"05/11","f":1,"i":86,"rh":0.55,"alt":1760},{"date":"05/11","f":1,"i":87,"rh":0.7,"alt":1730},{"date":"05/11","f":1,"i":88,"rh":0.85,"alt":1700},{"date":"05/11","f":1,"i":89,"rh":0.95,"alt":1680},{"date":"05/11","f":1,"i":90,"rh":1.03,"alt":1650},{"date":"05/11","f":1,"i":91,"rh":0.95,"alt":1640},{"date":"05/11","f":1,"i":92,"rh":0.8,"alt":1650},{"date":"05/11","f":1,"i":93,"rh":0.65,"alt":1680},{"date":"05/11","f":1,"i":94,"rh":0.5,"alt":1715},{"date":"05/11","f":1,"i":95,"rh":0.35,"alt":1730},{"date":"05/11","f":1,"i":96,"rh":0.3,"alt":1740},
{"date":"05/11","f":2,"i":1,"rh":0.3,"alt":1740},{"date":"05/11","f":2,"i":2,"rh":0.4,"alt":1720},{"date":"05/11","f":2,"i":3,"rh":0.5,"alt":1690},{"date":"05/11","f":2,"i":4,"rh":0.65,"alt":1655},{"date":"05/11","f":2,"i":5,"rh":0.8,"alt":1625},{"date":"05/11","f":2,"i":6,"rh":0.95,"alt":1610},{"date":"05/11","f":2,"i":7,"rh":1.02,"alt":1625},{"date":"05/11","f":2,"i":8,"rh":0.9,"alt":1590},{"date":"05/11","f":2,"i":9,"rh":0.75,"alt":1580},{"date":"05/11","f":2,"i":10,"rh":0.65,"alt":1570},{"date":"05/11","f":2,"i":11,"rh":0.6,"alt":1530},{"date":"05/11","f":2,"i":12,"rh":0.62,"alt":1480},{"date":"05/11","f":2,"i":13,"rh":0.7,"alt":1470},{"date":"05/11","f":2,"i":14,"rh":0.85,"alt":1460},{"date":"05/11","f":2,"i":15,"rh":0.96,"alt":1450},{"date":"05/11","f":2,"i":16,"rh":0.85,"alt":1420},{"date":"05/11","f":2,"i":17,"rh":0.72,"alt":1410},{"date":"05/11","f":2,"i":18,"rh":0.64,"alt":1400},{"date":"05/11","f":2,"i":19,"rh":0.7,"alt":1360},{"date":"05/11","f":2,"i":20,"rh":0.8,"alt":1340},{"date":"05/11","f":2,"i":21,"rh":0.87,"alt":1320},{"date":"05/11","f":2,"i":22,"rh":0.8,"alt":1290},{"date":"05/11","f":2,"i":23,"rh":0.72,"alt":1270},{"date":"05/11","f":2,"i":24,"rh":0.66,"alt":1250},{"date":"05/11","f":2,"i":25,"rh":0.75,"alt":1230},{"date":"05/11","f":2,"i":26,"rh":0.85,"alt":1210},{"date":"05/11","f":2,"i":27,"rh":0.8,"alt":1180},{"date":"05/11","f":2,"i":28,"rh":0.7,"alt":1180},{"date":"05/11","f":2,"i":29,"rh":0.66,"alt":1120},{"date":"05/11","f":2,"i":30,"rh":0.72,"alt":1080},{"date":"05/11","f":2,"i":31,"rh":0.8,"alt":1050},{"date":"05/11","f":2,"i":32,"rh":0.86,"alt":1020},{"date":"05/11","f":2,"i":33,"rh":0.78,"alt":990},{"date":"05/11","f":2,"i":34,"rh":0.7,"alt":960},{"date":"05/11","f":2,"i":35,"rh":0.66,"alt":920},{"date":"05/11","f":2,"i":36,"rh":0.74,"alt":900},{"date":"05/11","f":2,"i":37,"rh":0.77,"alt":880},{"date":"05/11","f":2,"i":38,"rh":0.78,"alt":850},{"date":"05/11","f":2,"i":39,"rh":0.72,"alt":820},{"date":"05/11","f":2,"i":40,"rh":0.7,"alt":800},{"date":"05/11","f":2,"i":41,"rh":0.64,"alt":760},{"date":"05/11","f":2,"i":42,"rh":0.72,"alt":740},{"date":"05/11","f":2,"i":43,"rh":0.76,"alt":720},{"date":"05/11","f":2,"i":44,"rh":0.78,"alt":700},{"date":"05/11","f":2,"i":45,"rh":0.72,"alt":680},{"date":"05/11","f":2,"i":46,"rh":0.7,"alt":660},{"date":"05/11","f":2,"i":47,"rh":0.62,"alt":620},{"date":"05/11","f":2,"i":48,"rh":0.68,"alt":605},{"date":"05/11","f":2,"i":49,"rh":0.74,"alt":610},
{"date":"05/11","f":3,"i":1,"rh":0.17,"alt":1760},{"date":"05/11","f":3,"i":2,"rh":0.35,"alt":1770},{"date":"05/11","f":3,"i":3,"rh":0.55,"alt":1745},{"date":"05/11","f":3,"i":4,"rh":0.75,"alt":1715},{"date":"05/11","f":3,"i":5,"rh":0.9,"alt":1690},{"date":"05/11","f":3,"i":6,"rh":1.0,"alt":1665},{"date":"05/11","f":3,"i":7,"rh":0.9,"alt":1660},{"date":"05/11","f":3,"i":8,"rh":0.7,"alt":1690},{"date":"05/11","f":3,"i":9,"rh":0.5,"alt":1730},{"date":"05/11","f":3,"i":10,"rh":0.3,"alt":1755},{"date":"05/11","f":3,"i":11,"rh":0.25,"alt":1720},{"date":"05/11","f":3,"i":12,"rh":0.45,"alt":1700},{"date":"05/11","f":3,"i":13,"rh":0.65,"alt":1670},{"date":"05/11","f":3,"i":14,"rh":0.85,"alt":1640},{"date":"05/11","f":3,"i":15,"rh":1.0,"alt":1600},{"date":"05/11","f":3,"i":16,"rh":0.85,"alt":1600},{"date":"05/11","f":3,"i":17,"rh":0.7,"alt":1610},{"date":"05/11","f":3,"i":18,"rh":0.62,"alt":1500},{"date":"05/11","f":3,"i":19,"rh":0.75,"alt":1500},{"date":"05/11","f":3,"i":20,"rh":0.9,"alt":1480},{"date":"05/11","f":3,"i":21,"rh":0.8,"alt":1440},{"date":"05/11","f":3,"i":22,"rh":0.68,"alt":1440},{"date":"05/11","f":3,"i":23,"rh":0.62,"alt":1380},{"date":"05/11","f":3,"i":24,"rh":0.75,"alt":1390},{"date":"05/11","f":3,"i":25,"rh":0.9,"alt":1380},{"date":"05/11","f":3,"i":26,"rh":0.8,"alt":1350},{"date":"05/11","f":3,"i":27,"rh":0.68,"alt":1330},{"date":"05/11","f":3,"i":28,"rh":0.75,"alt":1300},{"date":"05/11","f":3,"i":29,"rh":0.86,"alt":1270},{"date":"05/11","f":3,"i":30,"rh":0.78,"alt":1250},{"date":"05/11","f":3,"i":31,"rh":0.7,"alt":1220},{"date":"05/11","f":3,"i":32,"rh":0.8,"alt":1200},{"date":"05/11","f":3,"i":33,"rh":0.87,"alt":1160},{"date":"05/11","f":3,"i":34,"rh":0.75,"alt":1130},{"date":"05/11","f":3,"i":35,"rh":0.68,"alt":1080},{"date":"05/11","f":3,"i":36,"rh":0.76,"alt":1060},{"date":"05/11","f":3,"i":37,"rh":0.86,"alt":1060},{"date":"05/11","f":3,"i":38,"rh":0.8,"alt":1000},{"date":"05/11","f":3,"i":39,"rh":0.72,"alt":1000},{"date":"05/11","f":3,"i":40,"rh":0.64,"alt":980},{"date":"05/11","f":3,"i":41,"rh":0.7,"alt":940},{"date":"05/11","f":3,"i":42,"rh":0.76,"alt":940},{"date":"05/11","f":3,"i":43,"rh":0.78,"alt":900},{"date":"05/11","f":3,"i":44,"rh":0.74,"alt":860},{"date":"05/11","f":3,"i":45,"rh":0.68,"alt":840},{"date":"05/11","f":3,"i":46,"rh":0.64,"alt":820},{"date":"05/11","f":3,"i":47,"rh":0.72,"alt":780},{"date":"05/11","f":3,"i":48,"rh":0.77,"alt":780},{"date":"05/11","f":3,"i":49,"rh":0.72,"alt":750},{"date":"05/11","f":3,"i":50,"rh":0.66,"alt":720},{"date":"05/11","f":3,"i":51,"rh":0.7,"alt":680},{"date":"05/11","f":3,"i":52,"rh":0.75,"alt":660},{"date":"05/11","f":3,"i":53,"rh":0.76,"alt":640},{"date":"05/11","f":3,"i":54,"rh":0.7,"alt":620},{"date":"05/11","f":3,"i":55,"rh":0.65,"alt":600}
]},
"layer":[
{"data":{"values":[{}]},"mark":{"type":"rect","fill":"#c6c7c9","stroke":"#111111","strokeWidth":2},
 "encoding":{"x":{"datum":-0.3985,"type":"quantitative"},"x2":{"datum":1.6},"y":{"datum":4300,"type":"quantitative"},"y2":{"datum":-800}}},
{"data":{"values":[{}]},"mark":{"type":"rect","fill":"#ffffff","stroke":"#cc3300","strokeWidth":4},
 "encoding":{"x":{"datum":-0.351,"type":"quantitative"},"x2":{"datum":1.6},"y":{"datum":3706,"type":"quantitative"},"y2":{"datum":-800}}},
{"data":{"name":"profiles"},"transform":[{"filter":"datum.date=='05/07'"}],
 "mark":{"type":"line","strokeCap":"square","strokeJoin":"round"},
 "encoding":{
  "x":{"field":"rh","type":"quantitative","scale":{"domain":[0,1.2],"nice":false,"zero":false},
   "axis":{"title":"RH/100","titleFont":"Liberation Sans","titleFontSize":77,"titleFontWeight":"normal","titleColor":"#000000","titleX":551,"titleY":148,"titleAlign":"center","titleBaseline":"alphabetic","titleAnchor":null,
    "values":[0,0.1,0.2,0.3,0.4,0.5,0.6,0.7,0.8,0.9,1.0,1.1,1.2],
    "labelExpr":"round(datum.value*10)%2==0 ? format(datum.value,'.1f') : ''",
    "labelFont":"Liberation Sans","labelFontSize":40,"labelColor":"#000000","labelPadding":12,"labelFlush":false,"labelOverlap":false,"labelBound":false,
    "tickSize":{"condition":{"test":"round(datum.value*10)%2==1","value":12},"value":22},
    "tickWidth":3,"tickColor":"#000000","domainColor":"#000000","domainWidth":3.5,"grid":false,"zindex":1}},
  "y":{"field":"alt","type":"quantitative","scale":{"domain":[0,3500],"nice":false,"zero":false},
   "axis":{"title":"Altitude (m)","titleFont":"Liberation Sans","titleFontSize":77,"titleFontWeight":"normal","titleColor":"#000000","titleX":-170,"titleY":514,"titleAngle":-90,"titleAlign":"center","titleBaseline":"alphabetic","titleAnchor":null,
    "values":[0,500,1000,1500,2000,2500,3000,3500],
    "labelExpr":"datum.value%1000==0 ? format(datum.value,'d') : ''",
    "labelFont":"Liberation Sans","labelFontSize":40,"labelColor":"#000000","labelPadding":13,"labelFlush":false,"labelOverlap":false,"labelBound":false,
    "tickSize":{"condition":{"test":"datum.value%1000!=0","value":12},"value":22},
    "tickWidth":3,"tickColor":"#000000","domainColor":"#000000","domainWidth":3.5,"grid":false,"zindex":1}},
  "color":{"field":"date","type":"nominal","scale":{"domain":["05/07","04/25","05/18","05/11"],"range":["#ff0000","#0000ff","#00a2ff","#8000ff"]},
   "legend":{"title":null,"orient":"none","legendX":1010,"legendY":12,"symbolType":"square","symbolSize":42,"symbolStrokeWidth":6,"labelFont":"Liberation Sans","labelFontSize":46,"labelColor":"#000000","labelOffset":42,"rowPadding":13.5,"padding":0}},
  "detail":{"field":"f","type":"nominal"},
  "order":{"field":"i","type":"quantitative"},
  "strokeWidth":{"value":18}}},
{"data":{"name":"profiles"},"transform":[{"filter":"datum.date=='04/25'"}],
 "mark":{"type":"line","strokeCap":"square","strokeJoin":"round"},
 "encoding":{"x":{"field":"rh","type":"quantitative"},"y":{"field":"alt","type":"quantitative"},"color":{"field":"date","type":"nominal"},"detail":{"field":"f","type":"nominal"},"order":{"field":"i","type":"quantitative"},"strokeWidth":{"value":18}}},
{"data":{"name":"profiles"},"transform":[{"filter":"datum.date=='05/18'"}],
 "mark":{"type":"line","strokeCap":"square","strokeJoin":"round"},
 "encoding":{"x":{"field":"rh","type":"quantitative"},"y":{"field":"alt","type":"quantitative"},"color":{"field":"date","type":"nominal"},"detail":{"field":"f","type":"nominal"},"order":{"field":"i","type":"quantitative"},"strokeWidth":{"value":18}}},
{"data":{"name":"profiles"},"transform":[{"filter":"datum.date=='05/11'"}],
 "mark":{"type":"line","strokeCap":"square","strokeJoin":"round"},
 "encoding":{"x":{"field":"rh","type":"quantitative"},"y":{"field":"alt","type":"quantitative"},"color":{"field":"date","type":"nominal"},"detail":{"field":"f","type":"nominal"},"order":{"field":"i","type":"quantitative"},"strokeWidth":{"value":18}}},
{"data":{"values":[{}]},"mark":{"type":"rect","fill":"transparent","stroke":"#000000","strokeWidth":3.3},
 "encoding":{"x":{"datum":0,"type":"quantitative"},"x2":{"datum":1.2},"y":{"datum":3500,"type":"quantitative"},"y2":{"datum":0}}}
]
}
